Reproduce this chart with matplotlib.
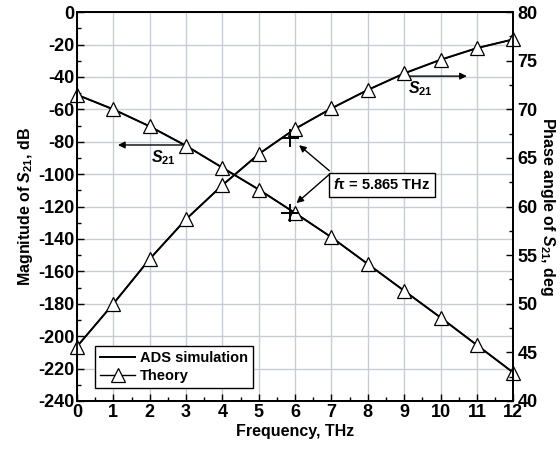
import matplotlib
matplotlib.use("Agg")
import matplotlib.pyplot as plt
from matplotlib.ticker import MultipleLocator

plt.rcParams["font.family"] = ["Liberation Sans", "DejaVu Sans"]
plt.rcParams["font.weight"] = "bold"
plt.rcParams["axes.unicode_minus"] = False
plt.rcParams["mathtext.fontset"] = "custom"
plt.rcParams["mathtext.rm"] = "Liberation Sans:bold"
plt.rcParams["mathtext.it"] = "Liberation Sans:bold:italic"
plt.rcParams["mathtext.bf"] = "Liberation Sans:bold"

# data
freq = [0, 1, 2, 3, 4, 5, 6, 7, 8, 9, 10, 11, 12]
mag_ads = [-51, -60, -70.5, -82.5, -96, -109.5, -124, -139, -155.5, -172, -188.5, -205.5, -222.5]
mag_theory = [-51, -60, -70.5, -82.5, -96, -109.5, -124, -139, -155.5, -172, -188.5, -205.5, -222.5]
phase_ads = [45.6, 50.0, 54.6, 58.7, 62.2, 65.4, 68.0, 70.1, 72.0, 73.7, 75.1, 76.3, 77.2]
phase_theory = [45.6, 50.0, 54.6, 58.7, 62.2, 65.4, 68.0, 70.1, 72.0, 73.7, 75.1, 76.3, 77.2]
f_t = 5.865
mag_ft = -124
phase_ft = 67.1

fig = plt.figure(figsize=(5.6, 4.5), dpi=100)
ax = fig.add_axes([0.1375, 0.109, 0.779, 0.864])
ax2 = ax.twinx()

# magnitude (left axis)
ax.plot(freq, mag_ads, color="black", lw=1.4, label="ADS simulation")
ax.plot(freq, mag_theory, color="black", lw=1.0, marker="^", ms=10,
        mfc="white", mec="black", mew=0.9, clip_on=False, label="Theory")
ax.plot([f_t], [mag_ft], marker="+", ms=13, mew=1.4, color="black", ls="none")

# phase (right axis)
ax2.plot(freq, phase_ads, color="black", lw=1.4)
ax2.plot(freq, phase_theory, color="black", lw=1.0, marker="^", ms=10,
         mfc="white", mec="black", mew=0.9, clip_on=False)
ax2.plot([f_t], [phase_ft], marker="+", ms=13, mew=1.4, color="black", ls="none")

ax.set_xlim(0, 12)
ax.set_ylim(-240, 0)
ax2.set_ylim(40, 80)

ax.xaxis.set_major_locator(MultipleLocator(1))
ax.xaxis.set_minor_locator(MultipleLocator(0.5))
ax.yaxis.set_major_locator(MultipleLocator(20))
ax.yaxis.set_minor_locator(MultipleLocator(10))
ax2.yaxis.set_major_locator(MultipleLocator(5))
ax2.yaxis.set_minor_locator(MultipleLocator(2.5))

ax.grid(True, which="major", color="#c8ccd4", lw=1.0)
ax.set_axisbelow(True)

for a in (ax, ax2):
    a.tick_params(which="both", direction="in", labelsize=13, width=1.0)
    a.tick_params(which="major", length=5)
    a.tick_params(which="minor", length=3)
    for s in a.spines.values():
        s.set_linewidth(1.3)
ax.tick_params(axis="x", pad=2)
ax.tick_params(axis="y", pad=2)
ax2.tick_params(axis="y", pad=3)
for lbl in ax.get_xticklabels() + ax.get_yticklabels() + ax2.get_yticklabels():
    lbl.set_fontweight("bold")
# lift the right "40" a bit so it clears the "12" below the corner
ax2.get_yticklabels()[0].set_va("bottom")

ax.set_xlabel("Frequency, THz", fontsize=11.5, fontweight="bold", labelpad=2)
ax.set_ylabel(r"Magnitude of $S_{21}$, dB", fontsize=11.5, fontweight="bold", labelpad=2)
ax2.set_ylabel(r"Phase angle of $S_{21}$, deg", fontsize=11.5, fontweight="bold",
               rotation=270, labelpad=14)

# S21 arrows
arrow = dict(arrowstyle="-|>", color="black", lw=1.0, mutation_scale=10)
ax.annotate("", xy=(1.05, -82), xytext=(2.97, -82), arrowprops=arrow)
ax.text(2.37, -90, r"$S_{21}$", fontsize=11.5, ha="center", va="center")
ax.annotate("", xy=(10.8, -39.5), xytext=(8.95, -39.5), arrowprops=arrow)
ax.text(9.45, -47.5, r"$S_{21}$", fontsize=11.5, ha="center", va="center")

# f_T annotation
ax.text(7.05, -106.5, r"$f$τ = 5.865 THz", fontsize=10.5, ha="left", va="center",
        bbox=dict(boxstyle="square,pad=0.3", fc="white", ec="black", lw=1.0))
ax.annotate("", xy=(6.05, -81), xytext=(7.0, -99), arrowprops=arrow)
ax.annotate("", xy=(5.98, -119), xytext=(7.0, -99), arrowprops=arrow)

leg = ax.legend(loc="lower left", bbox_to_anchor=(0.042, 0.033), borderaxespad=0,
                fontsize=10.5, frameon=True, fancybox=False, edgecolor="black",
                framealpha=1, handlelength=2.4, borderpad=0.35, labelspacing=0.25,
                handletextpad=0.3)
leg.get_frame().set_linewidth(1.0)
for t in leg.get_texts():
    t.set_fontweight("bold")

fig.savefig("out.png", dpi=100)
